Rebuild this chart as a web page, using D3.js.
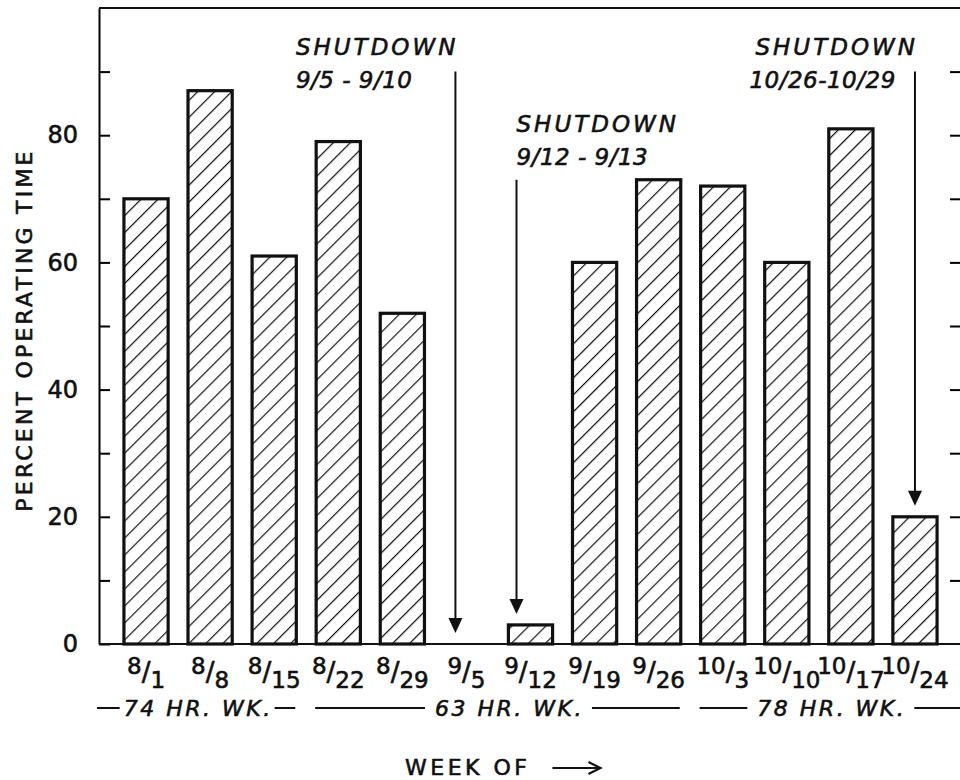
<!DOCTYPE html>
<html>
<head>
<meta charset="utf-8">
<script src="https://cdn.jsdelivr.net/npm/d3@7"></script>
<style>
  body { margin: 0; background: #fff; }
  text { font-family: "DejaVu Sans", sans-serif; fill: #111; stroke: #111; stroke-width: 0.6px; }
</style>
</head>
<body>
<svg id="chart"></svg>
<script>
// data
const weeks = ["8/1","8/8","8/15","8/22","8/29","9/5","9/12","9/19","9/26","10/3","10/10","10/17","10/24"];
const percentOperating = [70, 87, 61, 79, 52, 0, 3, 60, 73, 72, 60, 81, 20];
const yTickValues = [0,10,20,30,40,50,60,70,80,90];
const yTickLabels = [0,20,40,60,80];

const shiftFirstWeek = ["8/1","8/22","10/3"];
const shiftLastWeek = ["8/15","9/26","10/24"];
const shiftLabels = ["74 HR. WK.","63 HR. WK.","78 HR. WK."];

const shutdownWeek = ["9/5","9/12","10/24"];
const shutdownDates = ["9/5 - 9/10","9/12 - 9/13","10/26-10/29"];
const shutdownTextTop = [92.6, 80.5, 92.6];   // value units
const shutdownArrowTop = [90, 73, 90];

const width = 960, height = 780;
const plotLeft = 99, plotTop = 8, plotRight = 960, plotBottom = 644;

const svg = d3.select("#chart").attr("width", width).attr("height", height);

const x = d3.scaleBand().domain(weeks).range([114, 947])
  .paddingInner(0.31).paddingOuter(0.155);
const y = d3.scaleLinear().domain([0, 100]).range([plotBottom, plotTop]);

// hatch pattern
const pat = svg.append("defs").append("pattern")
  .attr("id", "hatch")
  .attr("patternUnits", "userSpaceOnUse")
  .attr("width", 12).attr("height", 12)
  .attr("patternTransform", "rotate(45)");
pat.append("rect").attr("width", 12).attr("height", 12).attr("fill", "#fff");
pat.append("line")
  .attr("x1", 0).attr("y1", 0).attr("x2", 0).attr("y2", 12)
  .attr("stroke", "#111").attr("stroke-width", 2.4);

// axes
const leftAxis = d3.axisLeft(y).tickValues(yTickValues)
  .tickSizeInner(-11).tickSizeOuter(0).tickPadding(21)
  .tickFormat(d => yTickLabels.includes(d) ? d : "");
const ga = svg.append("g").attr("transform", `translate(${plotLeft},0)`)
  .attr("font-size", 24).call(leftAxis);
ga.attr("font-size", 24).attr("font-family", null);
ga.select(".domain").attr("stroke-width", 2);
ga.selectAll(".tick line").attr("stroke-width", 2);
ga.selectAll(".tick text").style("font-size", "24px").attr("fill", "#111");

const rightAxis = d3.axisRight(y).tickValues(yTickValues.filter(d => d > 0))
  .tickSizeInner(-10).tickSizeOuter(0).tickFormat("");
const gr = svg.append("g").attr("transform", `translate(${plotRight},0)`).call(rightAxis);
gr.select(".domain").remove();
gr.selectAll(".tick line").attr("stroke-width", 2);

// frame top and baseline
svg.append("line").attr("x1", plotLeft).attr("x2", plotRight)
  .attr("y1", y(100)).attr("y2", y(100)).attr("stroke", "#111").attr("stroke-width", 2);
svg.append("line").attr("x1", plotLeft).attr("x2", plotRight)
  .attr("y1", y(0)).attr("y2", y(0)).attr("stroke", "#111").attr("stroke-width", 2);

// bars
svg.append("g").selectAll("rect")
  .data(weeks.map((w, i) => ({week: w, value: percentOperating[i]})).filter(d => d.value > 0))
  .enter().append("rect")
  .attr("x", d => x(d.week))
  .attr("y", d => y(d.value))
  .attr("width", x.bandwidth())
  .attr("height", d => y(0) - y(d.value))
  .attr("fill", "url(#hatch)")
  .attr("stroke", "#111")
  .attr("stroke-width", 3.2);

// week labels, drawn as fractions
const wl = svg.append("g").selectAll("text").data(weeks).enter().append("text")
  .attr("x", d => x(d) + x.bandwidth() / 2)
  .attr("y", 674)
  .attr("text-anchor", "middle")
  .style("font-size", "23px");
wl.each(function(d) {
  const [num, den] = d.split("/");
  const t = d3.select(this);
  t.append("tspan").text(num);
  t.append("tspan").attr("dy", 7).style("font-size", "26px").text("/");
  t.append("tspan").attr("dy", 7).text(den);
});

// shift length rows
const rowY = 708;
shiftLabels.forEach((lab, i) => {
  const x0 = i === 0 ? plotLeft - 2 : x(shiftFirstWeek[i]) - 1;
  const x1 = i === shiftLabels.length - 1 ? plotRight : x(shiftLastWeek[i]) + x.bandwidth() - 1;
  const cx = (x0 + x1) / 2 + (i === 1 ? 12 : 2);
  const t = svg.append("text").attr("x", cx).attr("y", rowY + 8)
    .attr("text-anchor", "middle").style("font-size", "22px")
    .attr("font-style", "italic").attr("letter-spacing", 2.5).text(lab);
  const w = t.node().getComputedTextLength();
  const gap = i === 0 ? 4 : 10;
  svg.append("line").attr("x1", x0).attr("x2", cx - w / 2 - gap)
    .attr("y1", rowY).attr("y2", rowY).attr("stroke", "#111").attr("stroke-width", 2);
  svg.append("line").attr("x1", cx + w / 2 + gap - 2).attr("x2", x1)
    .attr("y1", rowY).attr("y2", rowY).attr("stroke", "#111").attr("stroke-width", 2);
});

// x title
const xt = svg.append("text").attr("x", 405).attr("y", 775)
  .style("font-size", "22px").attr("letter-spacing", 3.5).text("WEEK OF");
const xtEnd = 405 + xt.node().getComputedTextLength() + 22;
svg.append("path")
  .attr("d", `M${xtEnd},768 H${xtEnd + 48} M${xtEnd + 36},762 L${xtEnd + 48},768 L${xtEnd + 36},774`)
  .attr("fill", "none").attr("stroke", "#111").attr("stroke-width", 2.2);

// y title
svg.append("text")
  .attr("transform", `translate(32,${(plotTop + plotBottom) / 2 + 4}) rotate(-90)`)
  .attr("text-anchor", "middle").style("font-size", "22px").attr("letter-spacing", 3.2)
  .text("PERCENT OPERATING TIME");

// shutdown notes
const arrowOffset = [-11, -14, 0];
shutdownWeek.forEach((w, i) => {
  const i2 = weeks.indexOf(w);
  const ax = x(w) + x.bandwidth() / 2 + arrowOffset[i];
  const tip = y(percentOperating[i2]) - 11;
  svg.append("line").attr("x1", ax).attr("x2", ax)
    .attr("y1", y(shutdownArrowTop[i])).attr("y2", tip - 10)
    .attr("stroke", "#111").attr("stroke-width", 2);
  svg.append("path").attr("d", `M${ax - 7},${tip - 15} L${ax + 7},${tip - 15} L${ax},${tip} Z`)
    .attr("fill", "#111");

  const ty = y(shutdownTextTop[i]);
  const t1 = svg.append("text").attr("y", ty).style("font-size", "23px")
    .attr("font-style", "italic").attr("letter-spacing", 3).text("SHUTDOWN");
  const w1 = t1.node().getComputedTextLength();
  const tx = i === 1 ? ax : ax - w1 + 3;
  t1.attr("x", tx);
  svg.append("text").attr("x", i === 2 ? tx - 6 : tx).attr("y", ty + 33)
    .style("font-size", "23px").attr("font-style", "italic").attr("letter-spacing", 0.5)
    .text(shutdownDates[i]);
});
</script>
</body>
</html>
